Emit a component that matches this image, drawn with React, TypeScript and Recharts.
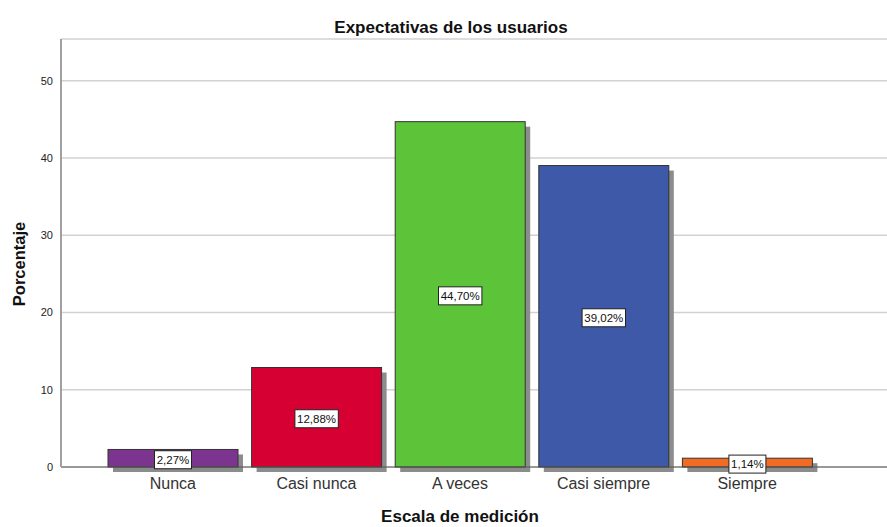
import React from 'react';
import { BarChart, Bar, XAxis, YAxis, CartesianGrid, LabelList, Cell } from 'recharts';

const categories = ['Nunca', 'Casi nunca', 'A veces', 'Casi siempre', 'Siempre'];
const percentages = [2.27, 12.88, 44.7, 39.02, 1.14];
const barColors = ['#7b358f', '#d70032', '#5dc338', '#3d59a8', '#f26b22'];
const yTicks = [0, 10, 20, 30, 40, 50];

const data = categories.map((c, i) => ({ name: c, value: percentages[i] }));

const FONT = '"Liberation Sans", Arial, sans-serif';

const fmt = (v: number) => v.toFixed(2).replace('.', ',') + '%';

const ShadowBar = (props: any) => {
  const { x, y, width, height, fill } = props;
  if (height <= 0) return null;
  return (
    <g>
      <rect x={x + 5} y={y + 5} width={width} height={height} fill="#8c8c8c" />
      <rect x={x} y={y} width={width} height={height} fill={fill} stroke="#333" strokeWidth={1} />
    </g>
  );
};

const BoxLabel = (props: any) => {
  const { x, y, width, height, value } = props;
  const text = fmt(Number(value));
  const w = text.length * 6.4 + 5;
  const h = 18;
  const cx = x + width / 2;
  const cy = y + height / 2 + 1.5;
  return (
    <g>
      <rect x={cx - w / 2} y={cy - h / 2} width={w} height={h} fill="#fff" stroke="#222" strokeWidth={1} />
      <text x={cx} y={cy + 4} textAnchor="middle" fontFamily={FONT} fontSize={11.5} fill="#111">
        {text}
      </text>
    </g>
  );
};

export default function App() {
  return (
    <div style={{ position: 'absolute', left: 0, top: 0, width: 887, height: 527, background: '#fff' }}>
      <BarChart
        width={887}
        height={527}
        data={data}
        margin={{ top: 39, right: 0, bottom: 0, left: 0 }}
      >
        <CartesianGrid vertical={false} stroke="#d2d2d2" strokeWidth={1.5} />
        <XAxis
          dataKey="name"
          height={60}
          padding={{ left: 40, right: 68 }}
          tickLine={false}
          axisLine={{ stroke: '#555', strokeWidth: 1 }}
          tick={{ fontFamily: FONT, fontSize: 16, fill: '#333' }}
          dy={3}
          interval={0}
        />
        <YAxis
          width={61}
          domain={[0, 55.4]}
          ticks={yTicks}
          tickLine={false}
          axisLine={{ stroke: '#a0a0a0', strokeWidth: 2 }}
          tick={{ fontFamily: FONT, fontSize: 11, fill: '#222' }}
        />
        <Bar dataKey="value" barSize={130} shape={<ShadowBar />} isAnimationActive={false}>
          {data.map((d, i) => (
            <Cell key={d.name} fill={barColors[i]} />
          ))}
          <LabelList dataKey="value" content={<BoxLabel />} />
        </Bar>
        <text x={451} y={33} textAnchor="middle" fontFamily={FONT} fontSize={17} fontWeight="bold" fill="#111">
          Expectativas de los usuarios
        </text>
        <text
          x={0}
          y={0}
          transform="translate(25,264) rotate(-90)"
          textAnchor="middle"
          fontFamily={FONT}
          fontSize={16.5}
          fontWeight="bold"
          fill="#111"
        >
          Porcentaje
        </text>
        <text x={460} y={522} textAnchor="middle" fontFamily={FONT} fontSize={17} fontWeight="bold" fill="#111">
          Escala de medición
        </text>
      </BarChart>
    </div>
  );
}
